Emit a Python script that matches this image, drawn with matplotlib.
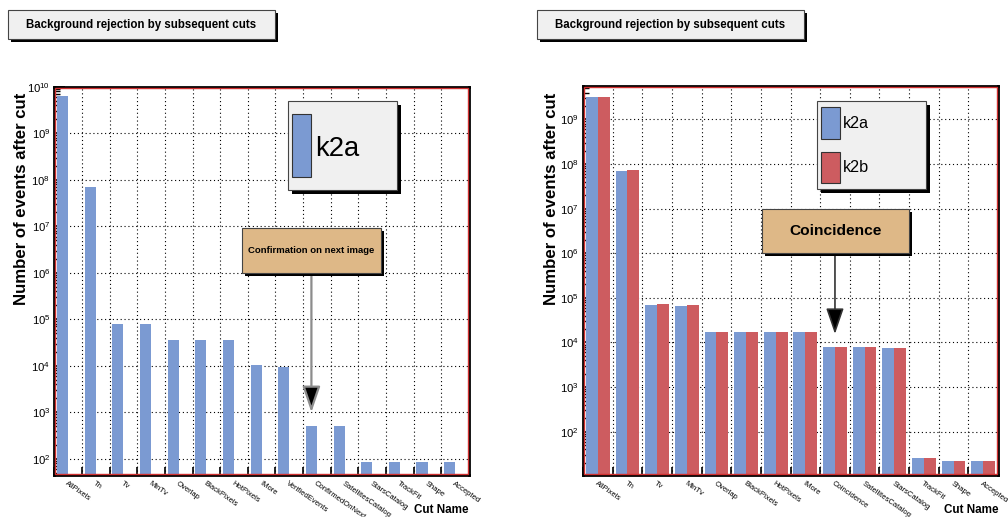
import matplotlib
matplotlib.use('Agg')
import matplotlib.pyplot as plt
from matplotlib.patches import Rectangle
from matplotlib.ticker import FixedLocator, LogLocator, NullFormatter, FuncFormatter
import matplotlib.transforms as mtrans
import numpy as np

plt.rcParams['font.family'] = ['Liberation Sans', 'DejaVu Sans']
plt.rcParams['mathtext.fontset'] = 'custom'
plt.rcParams['mathtext.rm'] = 'Liberation Sans'

# ---------------- data ----------------
title = 'Background rejection by subsequent cuts'
ylabel = 'Number of events after cut'
xlabel = 'Cut Name'

cuts_left = ['AllPixels', 'Tn', 'Tv', 'MinTv', 'Overlap', 'BlackPixels', 'HotPixels', 'IMore',
             'VerifiedEvents', 'ConfirmedOnNext', 'SatellitesCatalog', 'StarsCatalog',
             'TrackFit', 'Shape', 'Accepted']
left_k2a = [6.3e9, 6.9e7, 7.9e4, 7.9e4, 3.5e4, 3.5e4, 3.5e4, 1.04e4,
            9.2e3, 515, 515, 85, 85, 85, 85]

cuts_right = ['AllPixels', 'Tn', 'Tv', 'MinTv', 'Overlap', 'BlackPixels', 'HotPixels', 'IMore',
              'Coincidence', 'SatellitesCatalog', 'StarsCatalog', 'TrackFit', 'Shape', 'Accepted']
right_k2a = [3.2e9, 6.8e7, 7.0e4, 6.6e4, 1.7e4, 1.7e4, 1.7e4, 1.7e4,
             7.9e3, 7.9e3, 7.6e3, 24.5, 21, 21]
right_k2b = [3.2e9, 7.2e7, 7.3e4, 7.0e4, 1.7e4, 1.7e4, 1.7e4, 1.7e4,
             7.9e3, 7.9e3, 7.6e3, 24.5, 21, 21]

series_names = ['k2a', 'k2b']
BLUE = '#7b9ad2'
RED = '#cd5c60'
BOXFACE = '#f0f0f0'
NOTEFACE = '#deb887'

W, H = 1008, 517
fig = plt.figure(figsize=(W / 100, H / 100), dpi=100)
fig.patch.set_facecolor('white')
renderer = fig.canvas.get_renderer()


def text_width(s, size, weight='normal'):
    t = fig.text(0, 0, s, fontsize=size, fontweight=weight)
    w = t.get_window_extent(renderer).width
    t.remove()
    return w


def fit(t, target_w):
    """Adjust the font size of text t so that its (unrotated) width equals target_w px."""
    w = text_width(t.get_text(), t.get_fontsize(), t.get_fontweight())
    t.set_fontsize(t.get_fontsize() * target_w / w)
    return t


def px_axes(l, t, r, b, **kw):
    return fig.add_axes([l / W, 1 - b / H, (r - l) / W, (b - t) / H], **kw)


def exp_fmt(v, pos):
    e = int(round(np.log10(v)))
    return r'$\mathregular{10^{%d}}$' % e


XT_SIZE = 10 * 57.0 / text_width('SatellitesCatalog', 10)
YT_SIZE = 10 * 12.5 / text_width('10', 10)


def style(ax, cuts, ymin, ymax, emin, emax):
    n = len(cuts)
    ax.set_yscale('log')
    ax.set_ylim(ymin, ymax)
    ax.set_xlim(0, n)
    ax.set_axisbelow(True)
    ax.yaxis.set_major_locator(FixedLocator(10.0 ** np.arange(emin, emax + 1)))
    ax.yaxis.set_minor_locator(LogLocator(base=10, subs=np.arange(2, 10)))
    ax.yaxis.set_major_formatter(FuncFormatter(exp_fmt))
    ax.yaxis.set_minor_formatter(NullFormatter())
    ax.tick_params(axis='y', which='major', direction='in', length=8, width=1.2,
                   labelsize=YT_SIZE, pad=3, right=False)
    ax.tick_params(axis='y', which='minor', direction='in', length=4, width=1.0, right=False)
    ax.set_xticks(np.arange(0, n + 1))
    ax.xaxis.set_major_formatter(NullFormatter())
    ax.tick_params(axis='x', which='major', direction='in', length=6, width=1.2, top=False)
    ax.set_xticks(np.arange(n) + 0.5, minor=True)
    ax.set_xticklabels(cuts, minor=True, rotation=-35, ha='left', va='top',
                       rotation_mode='anchor', fontsize=XT_SIZE)
    ax.tick_params(axis='x', which='minor', length=0, pad=4)
    ax.grid(True, which='major', axis='both', ls=(0, (1, 2.5)), color='black', lw=0.8)
    for s in ax.spines.values():
        s.set_linewidth(2)
        s.set_color('black')
    bb = ax.get_position()
    dx = 2.0 / (bb.width * W)
    dy = 2.0 / (bb.height * H)
    ax.add_patch(Rectangle((dx * 0.5, dy * 0.5), 1 - dx, 1 - dy, transform=ax.transAxes,
                           fill=False, ec='#d03030', lw=1.0, zorder=4, clip_on=False))


# ---------------- left panel ----------------
axL = px_axes(54.3, 86.7, 469, 474.5)
xL = np.arange(len(cuts_left))
axL.bar(xL + 0.1, left_k2a, width=0.4, align='edge', bottom=1, color=BLUE, zorder=2)
style(axL, cuts_left, 46, 1e10, 2, 10)

# ---------------- right panel ----------------
axR = px_axes(583, 86, 998, 474.5)
xR = np.arange(len(cuts_right))
axR.bar(xR + 0.1, right_k2a, width=0.4, align='edge', bottom=1, color=BLUE, zorder=2)
axR.bar(xR + 0.5, right_k2b, width=0.4, align='edge', bottom=1, color=RED, zorder=2)
style(axR, cuts_right, 11, 5.6e9, 2, 9)

# ---------------- arrows ----------------
bL = mtrans.blended_transform_factory(axL.transData, axL.transAxes)
iL = cuts_left.index('ConfirmedOnNext')
axL.annotate('', xy=(iL + 0.3, 1e3), xycoords='data',
             xytext=(iL + 0.3, (474.5 - 273) / (474.5 - 86.7)), textcoords=bL,
             arrowprops=dict(arrowstyle='-|>,head_length=1.6,head_width=0.55', fc='black',
                             ec='#8c8c8c', lw=1.6, mutation_scale=10, shrinkA=0, shrinkB=0),
             zorder=6)
bR = mtrans.blended_transform_factory(axR.transData, axR.transAxes)
iR = cuts_right.index('Coincidence')
axR.annotate('', xy=(iR + 0.5, (474.5 - 334) / (474.5 - 86)), xycoords=bR,
             xytext=(iR + 0.5, (474.5 - 253) / (474.5 - 86)), textcoords=bR,
             arrowprops=dict(arrowstyle='-|>,head_length=1.6,head_width=0.55', fc='black',
                             ec='#333333', lw=1.2, mutation_scale=10, shrinkA=0, shrinkB=0),
             zorder=6)

# ---------------- overlay: boxes, legends, axis titles ----------------
ov = fig.add_axes([0, 0, 1, 1], zorder=10)
ov.set_xlim(0, W)
ov.set_ylim(H, 0)
ov.axis('off')
ov.patch.set_alpha(0)


def shadow_box(l, t, r, b, face, shadow=3):
    ov.add_patch(Rectangle((l + shadow, t + shadow), r - l, b - t, fc='black', ec='none'))
    ov.add_patch(Rectangle((l, t), r - l, b - t, fc=face, ec='#444444', lw=0.8))


# titles
for (l, r) in [(8, 275), (537, 804)]:
    shadow_box(l, 10, r, 39, BOXFACE, shadow=3)
    fit(ov.text((l + r) / 2, 25, title, ha='center', va='center', fontsize=10,
                fontweight='bold'), 230)

# y titles
for x in (22, 551):
    fit(ov.text(x, 93, ylabel, rotation=90, ha='center', va='top', fontsize=11,
                fontweight='bold'), 212)

# x titles
for x in (469, 998):
    fit(ov.text(x, 510, xlabel, ha='right', va='center', fontsize=12, fontweight='bold'), 54)

# left legend
shadow_box(288, 101, 397, 190, BOXFACE, shadow=4)
ov.add_patch(Rectangle((292, 114), 19, 63, fc=BLUE, ec='#333333', lw=0.8))
fit(ov.text(315, 149, series_names[0], ha='left', va='center', fontsize=27), 44)

# right legend
shadow_box(817, 101, 926, 189, BOXFACE, shadow=4)
ov.add_patch(Rectangle((821, 107), 19, 32, fc=BLUE, ec='#333333', lw=0.8))
ov.add_patch(Rectangle((821, 152), 19, 31, fc=RED, ec='#333333', lw=0.8))
fit(ov.text(843, 124, series_names[0], ha='left', va='center', fontsize=15), 26)
fit(ov.text(843, 168, series_names[1], ha='left', va='center', fontsize=15), 26)

# notes
shadow_box(242, 228, 381, 273, NOTEFACE, shadow=3)
fit(ov.text(311.5, 250.5, 'Confirmation on next image', ha='center', va='center',
            fontsize=8.5, fontweight='bold'), 125)
shadow_box(762, 209, 909, 253, NOTEFACE, shadow=3)
fit(ov.text(835.5, 231, 'Coincidence', ha='center', va='center', fontsize=14,
            fontweight='bold'), 92)

fig.savefig('out.png', dpi=100)
